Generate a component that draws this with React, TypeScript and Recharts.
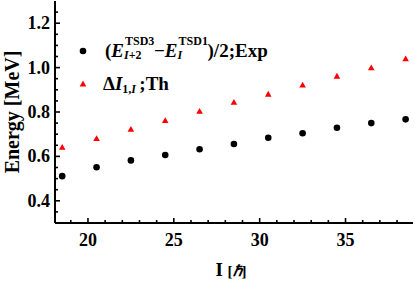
import { ScatterChart, Scatter, XAxis, YAxis, Legend, Label } from "recharts"

// spin values I, in hbar
const SPINS = [18.5, 20.5, 22.5, 24.5, 26.5, 28.5, 30.5, 32.5, 34.5, 36.5, 38.5]
// (E^TSD3_{I+2} - E^TSD1_I)/2, experiment
const EXP_ENERGY = [0.511, 0.551, 0.582, 0.606, 0.632, 0.656, 0.684, 0.704, 0.729, 0.75, 0.767]
// theory
const TH_ENERGY = [0.641, 0.68, 0.722, 0.761, 0.803, 0.843, 0.88, 0.921, 0.961, 0.999, 1.039]

const X_TICKS = [19, 20, 21, 22, 23, 24, 25, 26, 27, 28, 29, 30, 31, 32, 33, 34, 35, 36, 37, 38]
const X_MAJOR = [20, 25, 30, 35]
const Y_TICKS = [0.35, 0.4, 0.45, 0.5, 0.55, 0.6, 0.65, 0.7, 0.75, 0.8, 0.85, 0.9, 0.95, 1.0, 1.05, 1.1, 1.15, 1.2, 1.25]
const Y_MAJOR = [0.4, 0.6, 0.8, 1.0, 1.2]

const expData = SPINS.map((x, i) => ({ x, y: EXP_ENERGY[i] }))
const thData = SPINS.map((x, i) => ({ x, y: TH_ENERGY[i] }))

const FONT = '"Liberation Serif", "Times New Roman", serif'
const EXP_COLOR = "#000000"
const TH_COLOR = "#ff0000"

const isMajor = (list: number[], v: number) => list.some((m) => Math.abs(m - v) < 1e-6)

const BottomTick = (props: any) => {
  const { x, y, payload } = props
  const major = isMajor(X_MAJOR, payload.value)
  return (
    <g>
      <line x1={x} x2={x} y1={y} y2={y - (major ? 5 : 3)} stroke="#000" strokeWidth={1.6} />
      {major && (
        <text x={x} y={y + 23} textAnchor="middle" fontFamily={FONT} fontWeight="bold" fontSize={18} fill="#000">
          {payload.value}
        </text>
      )}
    </g>
  )
}

const TopTick = (props: any) => {
  const { x, y, payload } = props
  const major = isMajor(X_MAJOR, payload.value)
  return <line x1={x} x2={x} y1={y} y2={y + (major ? 5 : 3)} stroke="#000" strokeWidth={1.6} />
}

const LeftTick = (props: any) => {
  const { x, y, payload } = props
  const major = isMajor(Y_MAJOR, payload.value)
  return (
    <g>
      <line x1={x} x2={x + (major ? 5 : 3)} y1={y} y2={y} stroke="#000" strokeWidth={1.6} />
      {major && (
        <text x={x - 5} y={y + 6} textAnchor="end" fontFamily={FONT} fontWeight="bold" fontSize={18} fill="#000">
          {payload.value.toFixed(1)}
        </text>
      )}
    </g>
  )
}

const RightTick = (props: any) => {
  const { x, y, payload } = props
  const major = isMajor(Y_MAJOR, payload.value)
  return <line x1={x} x2={x - (major ? 5 : 3)} y1={y} y2={y} stroke="#000" strokeWidth={1.6} />
}

const Dot = (props: any) => <circle cx={props.cx} cy={props.cy} r={3.3} fill={EXP_COLOR} />

const Tri = (props: any) => {
  const { cx, cy } = props
  return <polygon points={`${cx},${cy - 3.4} ${cx - 3.3},${cy + 2.4} ${cx + 3.3},${cy + 2.4}`} fill={TH_COLOR} />
}

const scriptBox = (sup: any, sub: any, width: number, subDrop = 2) => (
  <span style={{ position: "relative", display: "inline-block", width, height: 1 }}>
    {sup && (
      <span style={{ position: "absolute", left: 1, bottom: 10, fontSize: 12, lineHeight: "12px", whiteSpace: "nowrap" }}>
        {sup}
      </span>
    )}
    <span style={{ position: "absolute", left: 0, bottom: -2 - subDrop, fontSize: 12, lineHeight: "12px", whiteSpace: "nowrap" }}>
      {sub}
    </span>
  </span>
)

const LegendBox = () => (
  <div style={{ position: "relative", width: 415, height: 110, fontFamily: FONT, fontWeight: "bold", color: "#000" }}>
    <svg width={415} height={110} style={{ position: "absolute", left: 0, top: 0 }}>
      <circle cx={83} cy={51} r={3.3} fill={EXP_COLOR} />
      <polygon points="83,80.6 79.7,86.4 86.3,86.4" fill={TH_COLOR} />
    </svg>
    <div style={{ position: "absolute", left: 105, top: 41, fontSize: 19, lineHeight: "19px", whiteSpace: "nowrap" }}>
      (<i>E</i>
      {scriptBox("TSD3", <span><i>I</i>+2</span>, 30)}−<i>E</i>
      {scriptBox("TSD1", <i>I</i>, 30)})/2;Exp
    </div>
    <div style={{ position: "absolute", left: 103, top: 74, fontSize: 19, lineHeight: "19px", whiteSpace: "nowrap" }}>
      Δ<i>I</i>
      {scriptBox(null, <span>1,<i>I</i></span>, 17, 3)};Th
    </div>
  </div>
)

export default function App() {
  return (
    <div style={{ width: 415, height: 282 }}>
      <style>{"body{margin:0}"}</style>
      <ScatterChart width={415} height={282} margin={{ top: 1, right: 2, left: 0, bottom: 0 }}>
        <XAxis
          dataKey="x"
          type="number"
          domain={[18.08, 38.93]}
          ticks={X_TICKS}
          allowDataOverflow
          height={59}
          tickSize={0}
          tickMargin={0}
          tickLine={false}
          tick={<BottomTick />}
          axisLine={{ stroke: "#000", strokeWidth: 2 }}
          interval={0}
        >
          <Label
            content={() => (
              <text x={231} y={276} textAnchor="middle" fontFamily={FONT} fontWeight="bold" fill="#000">
                <tspan fontSize={19}>I </tspan>
                <tspan fontSize={15}>[</tspan>
                <tspan fontSize={15} fontStyle="italic">ℏ</tspan>
                <tspan fontSize={15}>]</tspan>
              </text>
            )}
          />
        </XAxis>
        <XAxis
          xAxisId="top"
          orientation="top"
          type="number"
          domain={[18.08, 38.93]}
          ticks={X_TICKS}
          allowDataOverflow
          height={0}
          tickSize={0}
          tickMargin={0}
          tickLine={false}
          tick={<TopTick />}
          axisLine={{ stroke: "#000", strokeWidth: 2 }}
          interval={0}
        />
        <YAxis
          dataKey="y"
          type="number"
          domain={[0.3, 1.3]}
          ticks={Y_TICKS}
          allowDataOverflow
          width={55}
          tickSize={0}
          tickMargin={0}
          tickLine={false}
          tick={<LeftTick />}
          axisLine={{ stroke: "#000", strokeWidth: 2 }}
          interval={0}
        >
          <Label
            content={() => (
              <text
                x={19}
                y={112}
                transform="rotate(-90 19 112)"
                textAnchor="middle"
                fontFamily={FONT}
                fontWeight="bold"
                fontSize={20}
                fill="#000"
              >
                Energy [MeV]
              </text>
            )}
          />
        </YAxis>
        <YAxis
          yAxisId="right"
          orientation="right"
          type="number"
          domain={[0.3, 1.3]}
          ticks={Y_TICKS}
          allowDataOverflow
          width={0}
          tickSize={0}
          tickMargin={0}
          tickLine={false}
          tick={<RightTick />}
          axisLine={{ stroke: "#000", strokeWidth: 2 }}
          interval={0}
        />
        <Legend
          layout="vertical"
          align="center"
          verticalAlign="middle"
          wrapperStyle={{ left: 0, top: 0, width: 415, height: 110 }}
          content={() => <LegendBox />}
        />
        <Scatter name="Exp" data={expData} fill={EXP_COLOR} shape={<Dot />} isAnimationActive={false} />
        <Scatter name="Th" data={thData} fill={TH_COLOR} shape={<Tri />} isAnimationActive={false} />
      </ScatterChart>
    </div>
  )
}
